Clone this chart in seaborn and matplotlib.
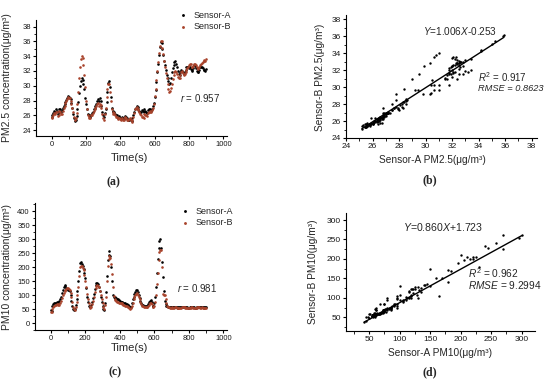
import matplotlib
matplotlib.use("Agg")
import matplotlib.pyplot as plt
from matplotlib.ticker import MultipleLocator
import seaborn as sns

sns.set_theme(style="ticks")
plt.rcParams['font.family'] = ['Liberation Sans', 'DejaVu Sans']
plt.rcParams['mathtext.fontset'] = 'custom'
plt.rcParams['mathtext.rm'] = 'Liberation Sans'
plt.rcParams['mathtext.it'] = 'Liberation Sans:italic'

# sampled every 5 s
time_s = list(range(0, 905, 5))

pm25_a = [26.0, 25.8, 26.3, 26.6, 26.5, 26.8, 26.6, 26.2, 26.4, 26.9,
          26.8, 26.5, 26.7, 27.0, 27.2, 27.5, 27.8, 28.1, 28.3, 28.6,
          28.5, 28.4, 28.2, 27.6, 27.0, 26.2, 25.6, 25.2, 25.4, 25.9,
          26.8, 27.8, 29.0, 29.9, 30.6, 31.0, 30.8, 30.3, 29.5, 28.4,
          27.5, 26.8, 26.2, 26.0, 26.0, 25.8, 26.1, 26.3, 26.5, 26.8,
          27.0, 27.3, 27.5, 27.9, 28.2, 28.0, 28.3, 27.9, 27.2, 26.5,
          26.0, 25.8, 26.3, 26.9, 27.8, 29.2, 30.4, 30.6, 29.8, 28.5,
          27.0, 26.6, 26.4, 26.5, 26.2, 26.0, 26.0, 25.7, 25.8, 25.9,
          25.6, 25.5, 25.8, 25.6, 25.5, 25.7, 25.9, 25.8, 25.6, 25.4,
          25.3, 25.5, 25.4, 25.2, 25.6, 26.0, 26.5, 26.9, 27.0, 27.2,
          27.1, 26.8, 26.6, 26.5, 26.4, 26.7, 26.6, 26.4, 26.8, 26.6,
          26.5, 26.3, 26.7, 26.9, 26.9, 26.7, 26.6, 26.9, 27.2, 27.6,
          28.5, 29.4, 30.5, 31.8, 33.0, 34.2, 35.2, 35.9, 35.8, 35.0,
          34.2, 33.4, 32.8, 32.1, 31.5, 31.0, 30.6, 30.3, 30.4, 31.0,
          31.8, 32.4, 32.8, 33.2, 33.4, 33.0, 32.5, 32.0, 31.6, 31.5,
          31.8, 32.1, 32.0, 31.8, 31.6, 31.9, 32.2, 32.5, 32.6, 32.5,
          32.4, 32.6, 32.3, 32.1, 32.0, 32.4, 32.8, 32.7, 32.4, 32.0,
          31.8, 31.9, 32.2, 32.5, 32.6, 32.5, 32.4, 32.2, 32.1, 32.0,
          32.3]
pm25_b = [25.8, 25.6, 26.0, 26.3, 26.2, 26.5, 26.4, 25.9, 26.0, 26.6,
          26.5, 26.2, 26.2, 26.6, 27.0, 27.3, 27.6, 27.9, 28.2, 28.5,
          28.4, 28.3, 28.0, 27.5, 27.0, 26.4, 25.8, 25.4, 25.6, 26.3,
          27.5, 29.2, 31.0, 32.5, 33.6, 34.0, 33.8, 32.8, 31.5, 29.8,
          28.0, 26.9, 26.0, 25.7, 25.8, 25.6, 26.0, 26.1, 26.3, 26.6,
          26.8, 27.0, 27.3, 27.5, 27.6, 27.3, 27.5, 27.4, 27.0, 26.2,
          25.6, 25.4, 26.2, 27.0, 28.5, 29.6, 30.3, 30.2, 29.2, 28.0,
          26.8, 26.4, 26.2, 26.3, 26.0, 25.8, 25.8, 25.5, 25.6, 25.7,
          25.5, 25.3, 25.7, 25.4, 25.3, 25.6, 25.8, 25.6, 25.4, 25.3,
          25.5, 25.6, 25.3, 25.1, 25.4, 25.8, 26.3, 26.8, 27.0, 27.1,
          26.9, 26.7, 26.5, 26.2, 26.0, 25.8, 25.8, 25.7, 26.2, 26.1,
          26.0, 25.9, 26.3, 26.5, 26.6, 26.5, 26.5, 26.7, 27.0, 27.5,
          28.6, 29.6, 30.8, 32.0, 33.2, 34.4, 35.4, 36.1, 36.0, 35.1,
          34.3, 33.3, 32.5, 31.7, 31.0, 30.2, 29.6, 29.2, 29.3, 29.7,
          30.2, 30.9, 31.5, 31.8, 32.0, 31.9, 31.6, 31.2, 31.0, 31.1,
          31.5, 31.8, 32.0, 31.7, 31.4, 31.6, 31.8, 32.1, 32.4, 32.6,
          32.8, 33.0, 32.9, 32.6, 32.5, 32.7, 33.0, 33.0, 32.8, 32.5,
          32.3, 32.4, 32.6, 32.8, 33.0, 33.1, 33.2, 33.3, 33.5, 33.4,
          33.6]

pm10_a = [45, 42, 60, 68, 70, 71, 72, 74, 73, 75,
          78, 85, 95, 106, 118, 128, 135, 132, 125, 122,
          120, 118, 115, 100, 80, 62, 52, 48, 50, 65,
          85, 115, 150, 185, 215, 220, 210, 205, 195, 180,
          160, 125, 95, 75, 62, 58, 60, 66, 75, 90,
          105, 122, 135, 142, 145, 140, 130, 115, 95, 75,
          60, 50, 45, 70, 110, 170, 225, 245, 258, 240,
          200, 150, 100, 95, 92, 90, 88, 86, 85, 82,
          78, 76, 75, 74, 72, 71, 70, 69, 68, 66,
          65, 60, 56, 58, 72, 85, 95, 105, 112, 118,
          118, 110, 100, 90, 80, 72, 66, 63, 62, 61,
          60, 61, 62, 68, 75, 80, 82, 75, 62, 60,
          70, 95, 130, 180, 230, 270, 295, 300, 270, 220,
          165, 115, 80, 68, 62, 60, 58, 57, 56, 57,
          57, 58, 56, 57, 58, 59, 57, 56, 55, 56,
          56, 57, 58, 59, 59, 58, 57, 56, 56, 55,
          55, 56, 57, 58, 58, 57, 56, 55, 55, 56,
          57, 58, 58, 57, 56, 57, 57, 56, 55, 56,
          56]
pm10_b = [40, 38, 50, 58, 62, 64, 66, 67, 68, 66,
          64, 70, 80, 90, 100, 108, 115, 120, 122, 124,
          124, 122, 118, 108, 95, 75, 58, 50, 48, 58,
          75, 100, 130, 170, 200, 206, 205, 198, 190, 172,
          150, 128, 105, 85, 70, 60, 55, 58, 68, 80,
          95, 112, 125, 132, 135, 133, 128, 115, 100, 85,
          72, 58, 50, 65, 95, 150, 205, 228, 240, 232,
          210, 175, 130, 98, 85, 82, 78, 76, 75, 73,
          72, 71, 70, 68, 65, 64, 62, 61, 60, 59,
          58, 55, 52, 54, 62, 72, 85, 92, 100, 105,
          108, 102, 95, 85, 75, 68, 62, 60, 58, 57,
          56, 57, 58, 62, 65, 70, 72, 68, 58, 57,
          60, 75, 100, 140, 180, 225, 255, 262, 262, 200,
          105, 102, 100, 85, 70, 62, 58, 56, 55, 55,
          55, 56, 54, 55, 56, 57, 55, 54, 54, 55,
          54, 55, 56, 57, 57, 56, 55, 54, 55, 54,
          53, 54, 55, 56, 56, 55, 55, 54, 54, 55,
          56, 56, 56, 55, 55, 56, 55, 55, 54, 55,
          55]

# fit results as printed on the chart
fit25 = (1.006, -0.253)
fit10 = (0.860, 1.723)

col_a = "black"
col_b = "#a8432b"

fig = plt.figure(figsize=(5.5, 3.85), dpi=100)
W, H = 550, 385


def add_ax(l, t, r, b):
    return fig.add_axes([l / W, 1 - b / H, (r - l) / W, (b - t) / H])


def style(ax, size):
    sns.despine(ax=ax)
    ax.tick_params(which='major', direction='out', length=2.5, width=0.8,
                   labelsize=size, pad=1.2, color='black', labelcolor='#1a1a1a')
    ax.tick_params(which='minor', direction='out', length=1.8, width=0.6, color='black')
    for s in ['left', 'bottom']:
        ax.spines[s].set_linewidth(0.8)
        ax.spines[s].set_color('black')
    ax.set_xlabel('')
    ax.set_ylabel('')


def ftext(x, y, s, **kw):
    fig.text(x / W, 1 - y / H, s, ha='center', va='center', **kw)


serif = ['Liberation Serif', 'DejaVu Serif']
ms = 3.5

# (a) PM2.5 time series
ax = add_ax(36, 20, 227, 136)
sns.scatterplot(x=time_s, y=pm25_a, ax=ax, color=col_a, s=ms, linewidth=0, label='Sensor-A')
sns.scatterplot(x=time_s, y=pm25_b, ax=ax, color=col_b, s=ms, linewidth=0, label='Sensor-B')
ax.set_xlim(-91, 1021)
ax.set_ylim(23.2, 38.9)
ax.xaxis.set_major_locator(MultipleLocator(200))
ax.xaxis.set_minor_locator(MultipleLocator(100))
ax.yaxis.set_major_locator(MultipleLocator(2))
ax.yaxis.set_minor_locator(MultipleLocator(1))
style(ax, 5.5)
ax.legend(loc='upper left', bbox_to_anchor=(174 / W, 1 - 6 / H), bbox_transform=fig.transFigure,
          frameon=False, fontsize=6.5, handletextpad=0.7, labelspacing=0.3, markerscale=1.1,
          borderpad=0, handlelength=1)
ax.text(747, 28.4, '$r$ = 0.957', fontsize=7, ha='left', va='center')
ftext(7, 78, 'PM2.5 concentration(μg/m³)', rotation=90, fontsize=7.5)
ftext(129, 158, 'Time(s)', fontsize=8)
ftext(113, 182, '(a)', fontsize=8.5, family=serif, weight='bold')

# (b) PM2.5 scatter
ax = add_ax(346, 15, 537, 138)
sns.scatterplot(x=pm25_a, y=pm25_b, ax=ax, color='black', s=3, linewidth=0)
x0, x1 = min(pm25_a), max(pm25_a)
ax.plot([x0, x1], [fit25[0] * x0 + fit25[1], fit25[0] * x1 + fit25[1]], color='black', lw=1)
ax.set_xlim(24, 38.4)
ax.set_ylim(24, 38.5)
for a in (ax.xaxis, ax.yaxis):
    a.set_major_locator(MultipleLocator(2))
    a.set_minor_locator(MultipleLocator(1))
style(ax, 6)
ax.text(29.8, 36.6, '$Y$=1.006$X$-0.253', fontsize=7.2, ha='left', va='center')
ax.text(33.95, 31.2, '$R^2$ = 0.917', fontsize=7, ha='left', va='center')
ax.text(33.95, 29.8, 'RMSE = 0.8623', fontsize=6.7, ha='left', va='center', style='italic')
ftext(320, 77, 'Sensor-B PM2.5(μg/m³)', rotation=90, fontsize=7.3)
ftext(432, 160, 'Sensor-A PM2.5(μg/m³)', fontsize=7.3)
ftext(430, 180, '(b)', fontsize=8.5, family=serif, weight='bold')

# (c) PM10 time series
ax = add_ax(35, 203, 227, 330)
sns.scatterplot(x=time_s, y=pm10_a, ax=ax, color=col_a, s=ms, linewidth=0, label='Sensor-A')
sns.scatterplot(x=time_s, y=pm10_b, ax=ax, color=col_b, s=ms, linewidth=0, label='Sensor-B')
ax.set_xlim(-91, 1021)
ax.set_ylim(-25, 430)
ax.xaxis.set_major_locator(MultipleLocator(200))
ax.xaxis.set_minor_locator(MultipleLocator(100))
ax.yaxis.set_major_locator(MultipleLocator(50))
ax.yaxis.set_minor_locator(MultipleLocator(25))
style(ax, 5.5)
ax.legend(loc='upper left', bbox_to_anchor=(176 / W, 1 - 202 / H), bbox_transform=fig.transFigure,
          frameon=False, fontsize=6.5, handletextpad=0.7, labelspacing=0.3, markerscale=1.1,
          borderpad=0, handlelength=1)
ax.text(730, 127, '$r$ = 0.981', fontsize=7, ha='left', va='center')
ftext(7, 267, 'PM10 concentration(μg/m³)', rotation=90, fontsize=7.5)
ftext(129, 348, 'Time(s)', fontsize=8)
ftext(115, 372, '(c)', fontsize=8.5, family=serif, weight='bold')

# (d) PM10 scatter
ax = add_ax(346, 213, 535, 331)
sns.scatterplot(x=pm10_a, y=pm10_b, ax=ax, color='black', s=3, linewidth=0)
x0, x1 = min(pm10_a), max(pm10_a)
ax.plot([x0, x1], [fit10[0] * x0 + fit10[1], fit10[0] * x1 + fit10[1]], color='black', lw=1)
ax.set_xlim(12, 322)
ax.set_ylim(15, 318)
for a in (ax.xaxis, ax.yaxis):
    a.set_major_locator(MultipleLocator(50))
    a.set_minor_locator(MultipleLocator(25))
style(ax, 6)
ax.text(105, 283, '$Y$=0.860$X$+1.723', fontsize=7.6, ha='left', va='center')
ax.text(212, 164, '$R^2$ = 0.962', fontsize=7.3, ha='left', va='center')
ax.text(212, 132, '$RMSE$ = 9.2994', fontsize=7.3, ha='left', va='center')
ftext(313, 272, 'Sensor-B PM10(μg/m³)', rotation=90, fontsize=7.3)
ftext(440, 353, 'Sensor-A PM10(μg/m³)', fontsize=7.3)
ftext(430, 372, '(d)', fontsize=8.5, family=serif, weight='bold')

fig.savefig('out.png', dpi=100)
